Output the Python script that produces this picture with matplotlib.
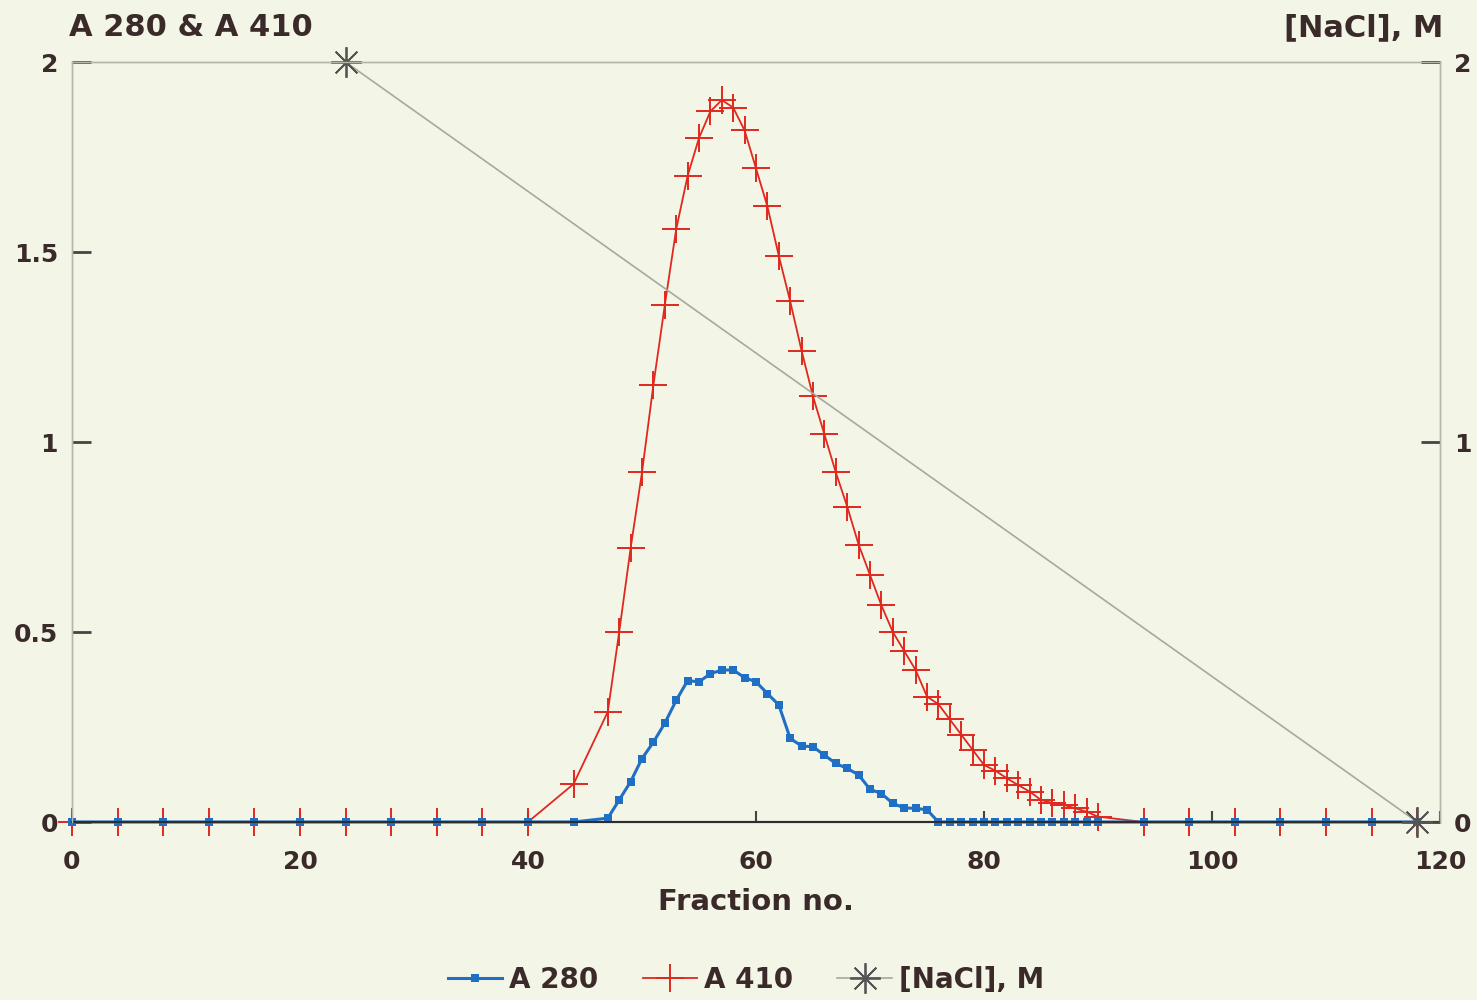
import matplotlib.pyplot as plt
import numpy as np

# fractions sampled every 4 before/after the peak, every fraction across it
frac = [0, 4, 8, 12, 16, 20, 24, 28, 32, 36, 40, 44] + list(range(47, 91)) + [94, 98, 102, 106, 110, 114, 118]

a410 = [0, 0, 0, 0, 0, 0, 0, 0, 0, 0, 0, 0.10,
        0.29, 0.50, 0.72, 0.92, 1.15, 1.36, 1.56, 1.70, 1.80, 1.87, 1.90,
        1.88, 1.82, 1.72, 1.62, 1.49, 1.37, 1.24, 1.12, 1.02, 0.92, 0.83,
        0.73, 0.65, 0.57, 0.50, 0.45, 0.40, 0.33, 0.31, 0.27, 0.23, 0.19,
        0.15, 0.135, 0.115, 0.097, 0.08, 0.058, 0.05, 0.045, 0.036, 0.027, 0.014,
        0, 0, 0, 0, 0, 0, 0]

a280 = [0, 0, 0, 0, 0, 0, 0, 0, 0, 0, 0, 0,
        0.01, 0.058, 0.106, 0.167, 0.21, 0.26, 0.32, 0.372, 0.369, 0.39, 0.40,
        0.40, 0.38, 0.369, 0.338, 0.308, 0.22, 0.20, 0.198, 0.176, 0.154, 0.141,
        0.124, 0.086, 0.075, 0.049, 0.037, 0.036, 0.032, 0, 0, 0, 0,
        0, 0, 0, 0, 0, 0, 0, 0, 0, 0, 0,
        0, 0, 0, 0, 0, 0, 0]

nacl_frac = [24, 118]
nacl = [2, 0]

bg = '#f3f5e6'
ink = '#3b2a2a'
plt.rcParams['font.family'] = ['DejaVu Sans']
plt.rcParams['font.weight'] = 'bold'

fig = plt.figure(figsize=(14.77, 10), dpi=100, facecolor=bg)
ax = fig.add_axes([0.0487, 0.178, 0.9263, 0.76], facecolor=bg)
ax2 = ax.twinx()

ax.plot(frac, a410, color='#e0281e', lw=1.3, marker='+', ms=20, mew=1.4,
        clip_on=False, zorder=3, label='A 410')
ax.plot(frac, a280, color='#1f6fc4', lw=2.2, marker='s', ms=6, mew=0,
        clip_on=False, zorder=4, label='A 280')
ax2.plot(nacl_frac, nacl, color='#a8a8a0', lw=1.2, marker=(8, 2, 0), ms=22,
         mec='#555555', mew=1.3, clip_on=False, label='[NaCl], M')

ax.set_xlim(0, 120)
ax.set_ylim(0, 2)
ax2.set_ylim(0, 2)
ax.set_xticks(range(0, 121, 20))
ax.set_yticks([0, 0.5, 1, 1.5, 2])
ax.set_yticklabels(['0', '0.5', '1', '1.5', '2'])
ax2.set_yticks([0, 1, 2])

for a in (ax, ax2):
    for s in ('top', 'left', 'right'):
        a.spines[s].set_color('#b5b5ac')
        a.spines[s].set_linewidth(1)
    a.spines['bottom'].set_color('#2d2d2d')
    a.spines['bottom'].set_linewidth(1.5)
    a.spines['bottom'].set_zorder(1)

ax.tick_params(axis='x', direction='in', length=8, width=1.5, color='#444444',
               labelsize=18, labelcolor=ink, pad=20)
ax.tick_params(axis='y', direction='in', length=14, width=2, color='#444444',
               labelsize=18, labelcolor=ink, pad=10)
ax2.tick_params(axis='y', direction='in', length=14, width=2, color='#444444',
                labelsize=18, labelcolor=ink, pad=10)

ax.set_xlabel('Fraction no.', fontsize=21, color=ink, fontweight='bold', labelpad=10)
fig.text(0.047, 0.972, 'A 280 & A 410', fontsize=22, color=ink, fontweight='bold',
         ha='left', va='center')
fig.text(0.977, 0.972, '[NaCl], M', fontsize=22, color=ink, fontweight='bold',
         ha='right', va='center')

h1, l1 = ax.get_legend_handles_labels()
h2, l2 = ax2.get_legend_handles_labels()
handles = [h1[1], h1[0], h2[0]]
labels = [l1[1], l1[0], l2[0]]
leg = fig.legend(handles, labels, loc='center', bbox_to_anchor=(0.505, 0.02), ncol=3,
                 frameon=False, fontsize=20, handlelength=1.95, columnspacing=1.6,
                 handletextpad=0.25)
for t in leg.get_texts():
    t.set_color(ink)

fig.savefig('out.png', dpi=100, facecolor=bg)
